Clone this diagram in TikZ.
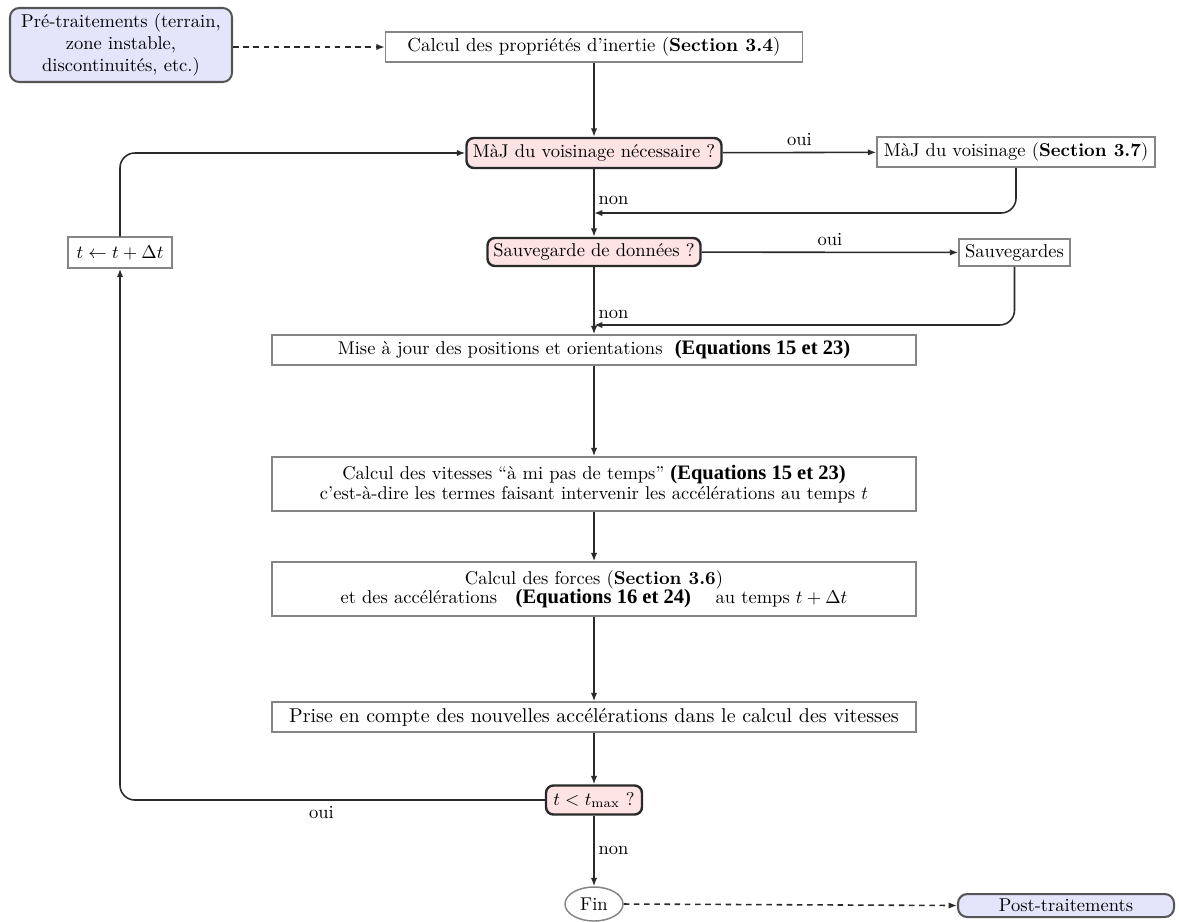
\documentclass[tikz,border=0pt]{standalone}
\usepackage{fontspec}
\usepackage{amsmath}
\newfontfamily\timesfont{Liberation Serif}
\usetikzlibrary{arrows.meta,shapes.geometric,calc}
\definecolor{lav}{HTML}{E4E4FB}
\definecolor{pinkq}{HTML}{FDE3E3}
\definecolor{boxline}{HTML}{858585}
\definecolor{darkline}{HTML}{2A2A2A}
\newcommand{\eqb}[1]{{\timesfont\bfseries\fontsize{11.1pt}{13pt}\selectfont #1}}
\tikzset{
  basefont/.style={font=\fontsize{10pt}{12pt}\selectfont},
  midfont/.style={font=\fontsize{10.2pt}{12.2pt}\selectfont},
  bigfont/.style={font=\fontsize{10.8pt}{12.6pt}\selectfont},
  plainbox/.style={basefont, draw=boxline, line width=0.8pt, fill=white, inner sep=0pt, align=center},
  qbox/.style={basefont, draw=darkline, line width=1.3pt, fill=pinkq, rounded corners=4pt, inner sep=0pt, align=center},
  endbox/.style={basefont, draw=darkline!80, line width=1.1pt, fill=lav, rounded corners=5pt, inner sep=0pt, align=center},
  finnode/.style={basefont, draw=boxline, line width=0.8pt, ellipse, inner sep=0pt},
  conn/.style={draw=darkline, line width=0.85pt, -{Latex[length=4.5pt,width=3.4pt]}},
  dconn/.style={conn, dashed, dash pattern=on 3pt off 2.5pt},
  lbl/.style={basefont, inner sep=2pt}
}
\begin{document}
\begin{tikzpicture}[x=0.54pt,y=-0.54pt]
\useasboundingbox (0,0) rectangle (1179,921);
% nodes
\node[endbox, minimum width={222*0.54pt}, minimum height={74*0.54pt}] (pre) at (121,45)
  {Pré-traitements (terrain,\\ zone instable,\\ discontinuités, etc.)};
\node[plainbox, midfont, minimum width={417*0.54pt}, minimum height={30*0.54pt}] (inertie) at (594,47)
  {Calcul des propriétés d'inertie (\textbf{Section 3.4})};
\node[qbox, minimum width={255*0.54pt}, minimum height={30*0.54pt}] (majq) at (594,153)
  {MàJ du voisinage nécessaire ?};
\node[plainbox, minimum width={278*0.54pt}, minimum height={30*0.54pt}] (maj) at (1016,152)
  {MàJ du voisinage (\textbf{Section 3.7})};
\node[qbox, minimum width={213*0.54pt}, minimum height={28*0.54pt}] (sauvq) at (594,252)
  {Sauvegarde de données ?};
\node[plainbox, minimum width={111*0.54pt}, minimum height={27*0.54pt}] (sauv) at (1014.5,252.5)
  {Sauvegardes};
\node[plainbox, minimum width={644*0.54pt}, minimum height={30*0.54pt}] (mise) at (594,350)
  {Mise à jour des positions et orientations \ \eqb{(Equations 15 et 23)}};
\node[plainbox, minimum width={644*0.54pt}, minimum height={54*0.54pt}] (vit) at (594,484)
  {Calcul des vitesses ``à mi pas de temps'' \eqb{(Equations 15 et 23)}\\[-1.5pt]
   c'est-à-dire les termes faisant intervenir les accélérations au temps $t$};
\node[plainbox, minimum width={644*0.54pt}, minimum height={54*0.54pt}] (forces) at (594,589)
  {Calcul des forces (\textbf{Section 3.6})\\[-1.5pt]
   et des accélérations \ \ \eqb{(Equations 16 et 24)} \ \ \ au temps $t+\Delta t$};
\node[plainbox, bigfont, minimum width={644*0.54pt}, minimum height={30*0.54pt}] (prise) at (594,717)
  {Prise en compte des nouvelles accélérations dans le calcul des vitesses};
\node[qbox, minimum width={96*0.54pt}, minimum height={29*0.54pt}] (tq) at (594,800)
  {$t<t_{\max}$ ?};
\node[plainbox, minimum width={104*0.54pt}, minimum height={31*0.54pt}] (tinc) at (120,252.5)
  {$t\leftarrow t+\Delta t$};
\node[finnode, minimum width={58*0.54pt}, minimum height={34*0.54pt}] (fin) at (594,904)
  {Fin};
\node[endbox, minimum width={216*0.54pt}, minimum height={23*0.54pt}] (post) at (1066,905.5)
  {Post-traitements};
% junction points
\coordinate (j1) at (594,213);
\coordinate (j2) at (594,325);
% connectors
\draw[dconn] (pre.east |- inertie.west) -- (inertie.west);
\draw[conn] (inertie) -- (majq);
\draw[conn] (majq) -- node[lbl, above, yshift=1pt]{oui} (maj);
\draw[conn, rounded corners=8pt] (maj.south) |- (j1);
\draw[conn] (majq) -- node[lbl, right, pos=0.46]{non} (sauvq);
\draw[conn] (sauvq) -- node[lbl, above, yshift=1pt]{oui} (sauv);
\draw[conn, rounded corners=8pt] (sauv.south) |- (j2);
\draw[conn] (sauvq) -- node[lbl, right, pos=0.7]{non} (mise);
\draw[conn] (mise) -- (vit);
\draw[conn] (vit) -- (forces);
\draw[conn] (forces) -- (prise);
\draw[conn] (prise) -- (tq);
\draw[conn, rounded corners=8pt] (tq.west) -| node[lbl, below, pos=0.263, yshift=-1pt]{oui} (tinc.south);
\draw[conn, rounded corners=8pt] (tinc.north) |- (majq.west);
\draw[conn] (tq) -- node[lbl, right, pos=0.49]{non} (fin);
\draw[dconn] (fin.east) -- (post.west);
\end{tikzpicture}
\end{document}
